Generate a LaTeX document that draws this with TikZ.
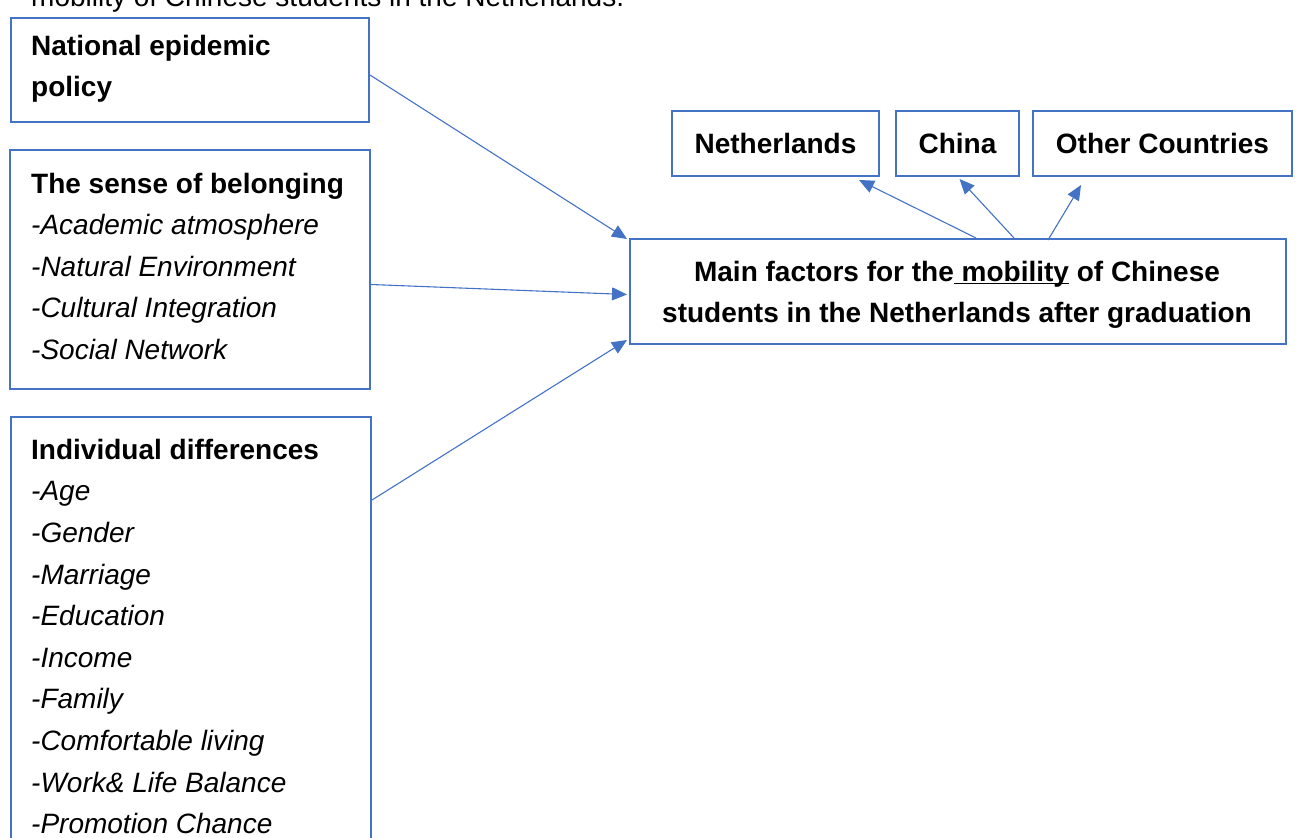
\documentclass[tikz,border=0pt]{standalone}
\usepackage{fontspec}
\setmainfont{Liberation Sans}
\usetikzlibrary{arrows.meta}
\definecolor{frameblue}{HTML}{4472C4}
% underline drawn close to the baseline, crossing descenders
\newcommand\baseunderline[1]{\setbox0\hbox{#1}\rlap{\rule[-3.2pt]{\wd0}{1.8pt}}\box0\relax}
\begin{document}
\begin{tikzpicture}[x=1pt,y=-1pt,
  frame/.style={draw=frameblue, line width=2pt, inner sep=0pt, anchor=north west},
  label/.style={font=\fontsize{28}{41.5}\selectfont\bfseries, inner sep=0pt},
  itemlist/.style={font=\fontsize{28}{41.5}\selectfont, align=left, inner sep=0pt, anchor=north west},
  link/.style={draw=frameblue, line width=1.1pt, -{Triangle[length=15pt,width=13pt]}}]
\useasboundingbox (0,0) rectangle (1296,838);

% running text above the chart
\node[font=\fontsize{28}{34}\selectfont, inner sep=0pt, anchor=base west] (lead) at (31,6)
  {mobility of Chinese students in the Netherlands.};

% factor boxes on the left
\node[frame, minimum width=358pt, minimum height=104pt] (b1) at (10,17) {};
\node[itemlist] (b1text) at (31,26)
  {\strut\bfseries National epidemic\\ \strut\bfseries policy};

\node[frame, minimum width=360pt, minimum height=239pt] (b2) at (9,149) {};
\node[itemlist] (b2text) at (31,164)
  {\strut\bfseries The sense of belonging\\
   \strut\itshape -Academic atmosphere\\
   \strut\itshape -Natural Environment\\
   \strut\itshape -Cultural Integration\\
   \strut\itshape -Social Network};

\node[frame, minimum width=360pt, minimum height=440pt] (b3) at (10,416) {};
\node[itemlist, font=\fontsize{28}{41.6}\selectfont] (b3text) at (31,430)
  {\strut\bfseries Individual differences\\
   \strut\itshape -Age\\
   \strut\itshape -Gender\\
   \strut\itshape -Marriage\\
   \strut\itshape -Education\\
   \strut\itshape -Income\\
   \strut\itshape -Family\\
   \strut\itshape -Comfortable living\\
   \strut\itshape -Work\& Life Balance\\
   \strut\itshape -Promotion Chance};

% central box
\node[frame, minimum width=656pt, minimum height=105pt] (main) at (629,238) {};
\node[itemlist, align=center, anchor=north] (maintext) at (957,252)
  {\strut\bfseries Main factors for the\baseunderline{ mobility} of Chinese\\
   \strut\bfseries students in the Netherlands after graduation};

% destinations
\node[frame, label, minimum width=207pt, minimum height=65pt] (nl) at (671,110) {Netherlands};
\node[frame, label, minimum width=123pt, minimum height=65pt] (cn) at (895,110) {China};
\node[frame, label, minimum width=259pt, minimum height=65pt] (oc) at (1032,110) {Other Countries};

% influences
\draw[link] ([yshift=-5pt]b1.east) -- ([xshift=-2pt,yshift=-1pt]main.north west);
\draw[link] ([yshift=-15pt]b2.east) -- ([xshift=-2pt,yshift=-3pt]main.west);
\draw[link] ([yshift=-84pt]b3.north east) -- ([xshift=-2pt,yshift=5pt]main.south west);

% outcomes
\draw[link] ([xshift=18pt]main.north) -- ([xshift=-21pt,yshift=-3pt]nl.south east);
\draw[link] ([xshift=56pt]main.north) -- ([xshift=2pt,yshift=-2pt]cn.south);
\draw[link] ([xshift=90pt,yshift=-2pt]main.north) -- ([xshift=49pt,yshift=-8pt]oc.south west);
\end{tikzpicture}
\end{document}
